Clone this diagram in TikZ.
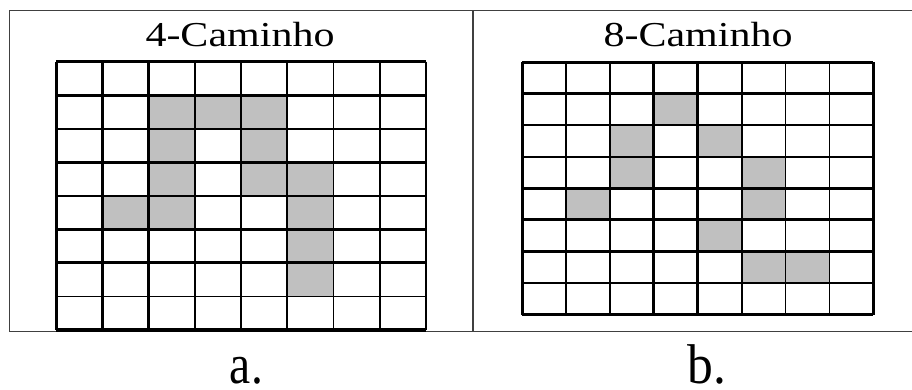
\documentclass[tikz,border=0pt]{standalone}
\usepackage{fontspec}
\setmainfont{Liberation Serif}
\definecolor{cellgray}{HTML}{C0C0C0}
\definecolor{boxgray}{HTML}{404040}
\begin{document}
\begin{tikzpicture}[x=1pt,y=-1pt,
  boxline/.style={draw=boxgray,line width=1.9pt},
  gridline/.style={draw=black},
  cellfill/.style={fill=cellgray},
  titletext/.style={inner sep=0pt,anchor=base,font=\fontsize{35}{40}\selectfont},
  labeltext/.style={inner sep=0pt,anchor=base,font=\fontsize{56}{58}\selectfont}]
\useasboundingbox (0,0) rectangle (912,390);
\fill[white] (0,0) rectangle (912,390);
% outer frame
\draw[boxline] (9.5,331.5) -- (9.5,10.5) -- (925,10.5);
\draw[boxline] (9.5,331.5) -- (925,331.5);
\draw[boxline] (473,10.5) -- (473,331.5);
% ---- left grid (4-Caminho) ----
\def\lx{56}\def\ly{61.7}\def\ldx{46.25}\def\ldy{33.54}
\foreach \c/\r in {2/1,3/1,4/1,2/2,4/2,2/3,4/3,5/3,1/4,2/4,5/4,5/5,5/6}
  \fill[cellfill] ({\lx+\c*\ldx},{\ly+\r*\ldy}) rectangle +(\ldx,\ldy);
\foreach \i/\w in {0/3,1/3,2/3,3/1.8,4/1.8,5/1.8,6/1.8,7/1.8,8/1.8}
  \draw[gridline,line width=\w pt] ({\lx+\i*\ldx},\ly) -- ({\lx+\i*\ldx},{\ly+8*\ldy});
\foreach \i/\w in {0/3,1/3,2/1.8,3/3,4/1.8,5/3,6/3,7/1.8,8/4.5}
  \draw[gridline,line width=\w pt] (\lx,{\ly+\i*\ldy}) -- ({\lx+8*\ldx},{\ly+\i*\ldy});
% ---- right grid (8-Caminho) ----
\def\rx{522.3}\def\ry{62.3}\def\rdx{43.875}\def\rdy{31.525}
\foreach \c/\r in {3/1,2/2,4/2,2/3,5/3,1/4,5/4,4/5,5/6,6/6}
  \fill[cellfill] ({\rx+\c*\rdx},{\ry+\r*\rdy}) rectangle +(\rdx,\rdy);
\foreach \i/\w in {0/3,1/1.8,2/1.8,3/3,4/3,5/1.8,6/1.8,7/1.8,8/3}
  \draw[gridline,line width=\w pt] ({\rx+\i*\rdx},\ry) -- ({\rx+\i*\rdx},{\ry+8*\rdy});
\foreach \i/\w in {0/3,1/3,2/1.8,3/1.8,4/3,5/3,6/3,7/1.8,8/3}
  \draw[gridline,line width=\w pt] (\rx,{\ry+\i*\rdy}) -- ({\rx+8*\rdx},{\ry+\i*\rdy});
% ---- texts ----
\node[titletext] (t4) at (240,46.7) {\scalebox{1.2}[1]{4-Caminho}};
\node[titletext] (t8) at (698,46.7) {\scalebox{1.2}[1]{8-Caminho}};
\node[labeltext] (la) at (246.5,383) {\scalebox{0.85}[1]{a.}};
\node[labeltext] (lb) at (707,383) {\scalebox{0.92}[1]{b.}};
\end{tikzpicture}
\end{document}
